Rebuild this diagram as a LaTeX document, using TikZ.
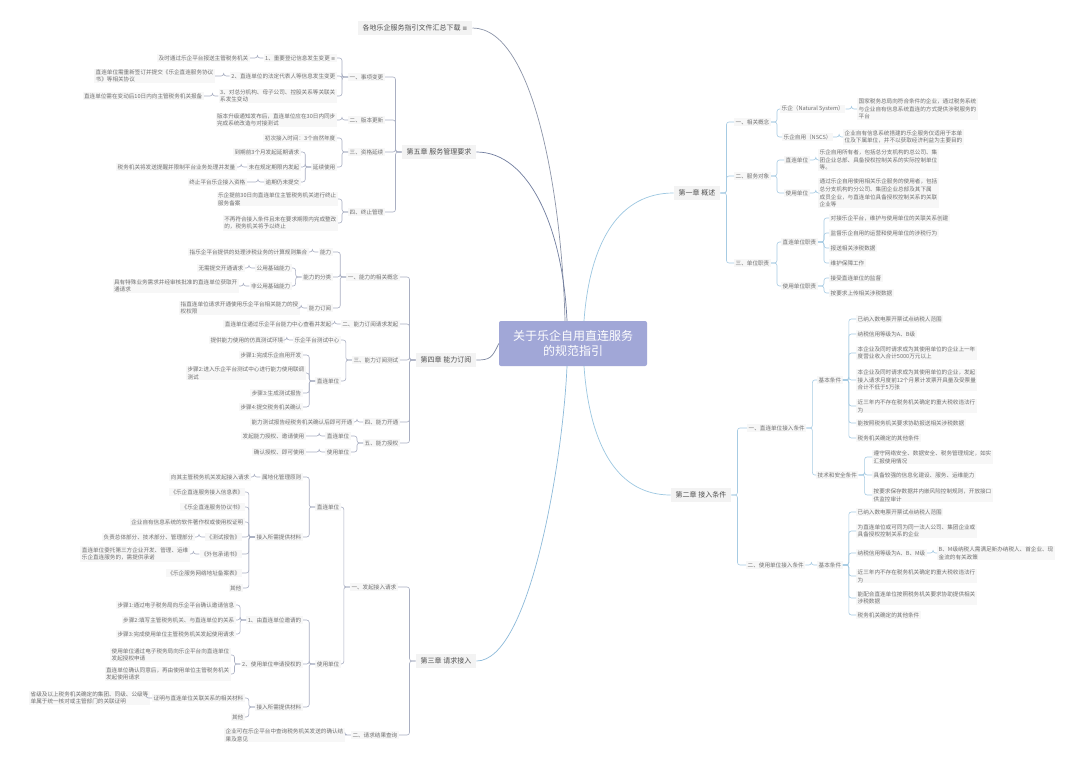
\documentclass[tikz,border=0pt]{standalone}
\usepackage{fontspec}
\setmainfont{Noto Sans CJK SC}
\newfontfamily\dv{DejaVu Sans}
\definecolor{lcol}{HTML}{A9AFC2}
\definecolor{rcol}{HTML}{A6CBE3}
\definecolor{txt}{HTML}{707070}
\definecolor{chtxt}{HTML}{505050}
\definecolor{leafbg}{HTML}{F7F7F7}
\definecolor{chbg}{HTML}{F3F3F3}
\definecolor{ctrbg}{HTML}{A1A7D7}
\definecolor{cv5}{HTML}{6F7C9E}
\definecolor{cvdl}{HTML}{8C94A8}
\definecolor{cv4}{HTML}{7D879F}
\definecolor{cv3}{HTML}{8DBADA}
\definecolor{cvr}{HTML}{9CC7E1}
\tikzset{
  leaf/.style={font=\fontsize{5.6}{7.7}\selectfont, text=txt, fill=leafbg, inner xsep=1.5pt, inner ysep=1pt, align=left},
  ll/.style={leaf, anchor=east},
  rl/.style={leaf, anchor=west},
  chap/.style={font=\fontsize{7}{9}\selectfont, text=chtxt, fill=chbg, inner xsep=5pt, inner ysep=3.5pt},
  ctrbox/.style={font=\fontsize{12}{15}\selectfont, text=white, fill=ctrbg, rounded corners=2pt, minimum width=148pt, minimum height=45pt, align=center},
  lline/.style={draw=lcol, line width=0.6pt, rounded corners=2.5pt},
  rline/.style={draw=rcol, line width=0.6pt, rounded corners=2.5pt},
  curve/.style={line width=0.7pt}
}
\newcommand\lk[2]{\draw[lline] (#1.west) -- ++(-6,0) |- (#2.east);}
\newcommand\rk[2]{\draw[rline] (#1.east) -- ++(6,0) |- (#2.west);}
\begin{document}
\begin{tikzpicture}[x=1pt,y=-1pt]
\fill[white] (0,0) rectangle (1080,766);
\useasboundingbox (0,0) rectangle (1080,766);

% center
\node[ctrbox] (ctr) at (573,343.5) {关于乐企自用直连服务\\的规范指引};

% chapters
\node[chap] (dl) at (415,28) {各地乐企服务指引文件汇总下载 {\dv\fontsize{6}{7}\selectfont ≡}};
\node[chap] (c5) at (439,152) {第五章 服务管理要求};
\node[chap] (c4) at (446,360) {第四章 能力订阅};
\node[chap] (c3) at (446,661) {第三章 请求接入};
\node[chap] (c1) at (697,193) {第一章 概述};
\node[chap] (c2) at (701,495) {第二章 接入条件};

\draw[curve,cvdl] (dl.east) .. controls (535,28) and (562,200) .. ([xshift=-8pt]ctr.north);
\draw[curve,cv5] (c5.east) .. controls (530,152) and (563,230) .. ([xshift=-6pt]ctr.north);
\draw[curve,cv4] (c4.east) .. controls (490,360) and (492,358) .. (ctr.west);
\draw[curve,cv3] (c3.east) .. controls (530,661) and (563,460) .. ([xshift=-6pt]ctr.south);
\draw[curve,cvr] ([xshift=11pt]ctr.north) .. controls (590,240) and (620,193) .. (c1.west);
\draw[curve,cvr] ([xshift=11pt]ctr.south) .. controls (590,450) and (620,495) .. (c2.west);

% ===== Chapter 5 =====
\node[ll] (a1) at (385,77) {一、事项变更};
\node[ll] (a2) at (385,120) {二、版本更新};
\node[ll] (a3) at (385,152) {三、资格延续};
\node[ll] (a4) at (385,212) {四、终止管理};
\foreach \c in {a1,a2,a3,a4} {\lk{c5}{\c}}

\node[ll] (a11) at (337,58) {1、重要登记信息发生变更 {\dv\fontsize{5}{6}\selectfont ≡}};
\node[ll] (a12) at (337,76) {2、直连单位的法定代表人等信息发生变更};
\node[ll] (a13) at (337,96) {3、对总分机构、母子公司、控股关系等关联关\\系发生变动};
\foreach \c in {a11,a12,a13} {\lk{a1}{\c}}
\node[ll] (a111) at (250,58) {及时通过乐企平台报送主管税务机关};
\lk{a11}{a111}
\node[ll] (a121) at (215,76) {直连单位需重新签订并提交《乐企直连服务协议\\书》等相关协议};
\lk{a12}{a121}
\node[ll] (a131) at (204,96) {直连单位需在变动后10日内向主管税务机关报备};
\lk{a13}{a131}
\node[ll] (a21) at (337,120) {版本升级通知发布后，直连单位应在30日内同步\\完成系统改造与对接测试};
\lk{a2}{a21}

\node[ll] (a31) at (337,138) {初次接入时间：3个自然年度};
\node[ll] (a32) at (337,167) {延续使用};
\foreach \c in {a31,a32} {\lk{a3}{\c}}
\node[ll] (a321) at (301,152) {到期前3个月发起延期请求};
\node[ll] (a322) at (301,167) {未在规定期限内发起};
\node[ll] (a323) at (301,182) {逾期仍未提交};
\foreach \c in {a321,a322,a323} {\lk{a32}{\c}}
\node[ll] (a3221) at (237,167) {税务机关将发送提醒并限制平台业务处理并发量};
\lk{a322}{a3221}
\node[ll] (a3231) at (247,182) {终止平台乐企接入资格};
\lk{a323}{a3231}

\node[ll] (a41) at (338,199) {乐企提前30日向直连单位主管税务机关进行终止\\服务备案};
\node[ll] (a42) at (338,223) {不再符合接入条件且未在要求期限内完成整改\\的，税务机关将予以终止};
\foreach \c in {a41,a42} {\lk{a4}{\c}}

% ===== Chapter 4 =====
\node[ll] (b1) at (400,277) {一、能力的相关概念};
\node[ll] (b2) at (400,324) {二、能力订阅请求发起};
\node[ll] (b3) at (400,360) {三、能力订阅测试};
\node[ll] (b4) at (400,422) {四、能力开通};
\node[ll] (b5) at (400,443) {五、能力授权};
\foreach \c in {b1,b2,b3,b4,b5} {\lk{c4}{\c}}

\node[ll] (b11) at (333,252) {能力};
\node[ll] (b12) at (333,277) {能力的分类};
\node[ll] (b13) at (333,308) {能力订阅};
\foreach \c in {b11,b12,b13} {\lk{b1}{\c}}
\node[ll] (b111) at (309,252) {指乐企平台提供的处理涉税业务的计算规则集合};
\lk{b11}{b111}
\node[ll] (b121) at (292,268) {公用基础能力};
\node[ll] (b122) at (292,286) {非公用基础能力};
\foreach \c in {b121,b122} {\lk{b12}{\c}}
\node[ll] (b1211) at (245,268) {无需提交开通请求};
\lk{b121}{b1211}
\node[ll] (b1221) at (239,286) {具有特殊业务需求并经审核批准的直连单位获取开\\通请求};
\lk{b122}{b1221}
\node[ll] (b131) at (300,308) {指直连单位请求开通使用乐企平台相关能力的授\\权权限};
\lk{b13}{b131}
\node[ll] (b21) at (333,324) {直连单位通过乐企平台能力中心查看并发起};
\lk{b2}{b21}

\node[ll] (b31) at (341,340) {乐企平台测试中心};
\node[ll] (b32) at (341,381) {直连单位};
\foreach \c in {b31,b32} {\lk{b3}{\c}}
\node[ll] (b311) at (285,340) {提供能力使用的仿真测试环境};
\lk{b31}{b311}
\node[ll] (b321) at (303,355) {步骤1:完成乐企自用开发};
\node[ll] (b322) at (306,373) {步骤2:进入乐企平台测试中心进行能力使用联调\\测试};
\node[ll] (b323) at (303,393) {步骤3:生成测试报告};
\node[ll] (b324) at (303,407) {步骤4:提交税务机关确认};
\foreach \c in {b321,b322,b323,b324} {\lk{b32}{\c}}
\node[ll] (b41) at (354,422) {能力测试报告经税务机关确认后即可开通};
\lk{b4}{b41}
\node[ll] (b51) at (351,436) {直连单位};
\node[ll] (b52) at (351,452) {使用单位};
\foreach \c in {b51,b52} {\lk{b5}{\c}}
\node[ll] (b511) at (306,436) {发起能力授权、邀请使用};
\lk{b51}{b511}
\node[ll] (b521) at (306,452) {确认授权、即可使用};
\lk{b52}{b521}

% ===== Chapter 3 =====
\node[ll] (d1) at (398,587) {一、发起接入请求};
\node[ll] (d2) at (399,735) {二、请求结果查询};
\foreach \c in {d1,d2} {\lk{c3}{\c}}
\node[ll] (d11) at (341,507) {直连单位};
\node[ll] (d12) at (341,664) {使用单位};
\foreach \c in {d11,d12} {\lk{d1}{\c}}
\node[ll] (d111) at (303,477) {属地化管理原则};
\node[ll] (d112) at (303,537) {接入所需提供材料};
\foreach \c in {d111,d112} {\lk{d11}{\c}}
\node[ll] (d1111) at (251,477) {向其主管税务机关发起接入请求};
\lk{d111}{d1111}
\node[ll] (d1121) at (245,492) {《乐企直连服务接入信息表》};
\node[ll] (d1122) at (245,507) {《乐企直连服务协议书》};
\node[ll] (d1123) at (245,522) {企业自有信息系统的软件著作权或使用权证明};
\node[ll] (d1124) at (242,537) {《测试报告》};
\node[ll] (d1125) at (242,554) {《外包承诺书》};
\node[ll] (d1126) at (242,573) {《乐企服务网络地址备案表》};
\node[ll] (d1127) at (243,588) {其他};
\foreach \c in {d1121,d1122,d1123,d1124,d1125,d1126,d1127} {\lk{d112}{\c}}
\node[ll] (d11241) at (195,537) {负责总体部分、技术部分、管理部分};
\lk{d1124}{d11241}
\node[ll] (d11251) at (190,554) {直连单位委托第三方企业开发、管理、运维\\乐企直连服务的，需提供承诺};
\lk{d1125}{d11251}

\node[ll] (d121) at (303,620) {1、由直连单位邀请的};
\node[ll] (d122) at (303,664) {2、使用单位申请授权的};
\node[ll] (d123) at (303,707) {接入所需提供材料};
\foreach \c in {d121,d122,d123} {\lk{d12}{\c}}
\node[ll] (d1211) at (236,605) {步骤1:通过电子税务局向乐企平台确认邀请信息};
\node[ll] (d1212) at (236,620) {步骤2:填写主管税务机关、与直连单位的关系};
\node[ll] (d1213) at (236,634) {步骤3:完成使用单位主管税务机关发起使用请求};
\foreach \c in {d1211,d1212,d1213} {\lk{d121}{\c}}
\node[ll] (d1221) at (231,655) {使用单位通过电子税务局向乐企平台向直连单位\\发起授权申请};
\node[ll] (d1222) at (231,674) {直连单位确认同意后，再由使用单位主管税务机关\\发起使用请求};
\foreach \c in {d1221,d1222} {\lk{d122}{\c}}
\node[ll] (d1231) at (245,698) {证明与直连单位关联关系的相关材料};
\node[ll] (d1232) at (245,717) {其他};
\foreach \c in {d1231,d1232} {\lk{d123}{\c}}
\node[ll] (d12311) at (150,698) {省级及以上税务机关确定的集团、同级、公级等\\单属于统一核对或主管部门的关联证明};
\lk{d1231}{d12311}
\node[ll] (d21) at (345,735) {企业可在乐企平台中查询税务机关发送的确认结\\果及意见};
\lk{d2}{d21}

% ===== Chapter 1 =====
\node[rl] (e1) at (734,122) {一、相关概念};
\node[rl] (e2) at (734,176) {二、服务对象};
\node[rl] (e3) at (734,263) {三、单位职责};
\foreach \c in {e1,e2,e3} {\rk{c1}{\c}}
\node[rl] (e11) at (780,109) {乐企（Natural System）};
\node[rl] (e12) at (782,137) {乐企自用（NSCS）};
\foreach \c in {e11,e12} {\rk{e1}{\c}}
\node[rl] (e111) at (857,109) {国家税务总局向符合条件的企业，通过税务系统\\与企业自有信息系统直连的方式提供涉税服务的\\平台};
\rk{e11}{e111}
\node[rl] (e121) at (843,137) {企业自有信息系统搭建的乐企服务仅适用于本单\\位及下属单位，并不以获取经济利益为主要目的};
\rk{e12}{e121}
\node[rl] (e21) at (784,160) {直连单位};
\node[rl] (e22) at (784,193) {使用单位};
\foreach \c in {e21,e22} {\rk{e2}{\c}}
\node[rl] (e211) at (818,160) {乐企自用所有者，包括总分支机构的总公司、集\\团企业总部、具备授权控制关系的实际控制单位\\等。};
\rk{e21}{e211}
\node[rl] (e221) at (818,193) {通过乐企自用使用相关乐企服务的使用者，包括\\总分支机构的分公司、集团企业总部及其下属\\成员企业，与直连单位具备授权控制关系的关联\\企业等};
\rk{e22}{e221}
\node[rl] (e31) at (781,242) {直连单位职责};
\node[rl] (e32) at (781,286) {使用单位职责};
\foreach \c in {e31,e32} {\rk{e3}{\c}}
\node[rl] (e311) at (829,218) {对接乐企平台，维护与使用单位的关联关系创建};
\node[rl] (e312) at (829,233) {监督乐企自用的运营和使用单位的涉税行为};
\node[rl] (e313) at (829,248) {报送相关涉税数据};
\node[rl] (e314) at (829,263) {维护保障工作};
\foreach \c in {e311,e312,e313,e314} {\rk{e31}{\c}}
\node[rl] (e321) at (829,278) {接受直连单位的监督};
\node[rl] (e322) at (829,293) {按要求上传相关涉税数据};
\foreach \c in {e321,e322} {\rk{e32}{\c}}

% ===== Chapter 2 =====
\node[rl] (f1) at (747,428) {一、直连单位接入条件};
\node[rl] (f2) at (746,565) {二、使用单位接入条件};
\foreach \c in {f1,f2} {\rk{c2}{\c}}
\node[rl] (f11) at (817,380) {基本条件};
\node[rl] (f12) at (816,475) {技术和安全条件};
\foreach \c in {f11,f12} {\rk{f1}{\c}}
\node[rl] (f111) at (856,319) {已纳入数电票开票试点纳税人范围};
\node[rl] (f112) at (856,334) {纳税信用等级为A、B级};
\node[rl] (f113) at (856,353) {本企业及同时请求成为其使用单位的企业上一年\\度营业收入合计5000万元以上};
\node[rl] (f114) at (856,380) {本企业及同时请求成为其使用单位的企业，发起\\接入请求月度前12个月累计发票开具量及受票量\\合计不低于5万张};
\node[rl] (f115) at (856,406) {近三年内不存在税务机关确定的重大税收违法行\\为};
\node[rl] (f116) at (856,423) {能按照税务机关要求协助报送相关涉税数据};
\node[rl] (f117) at (856,438) {税务机关确定的其他条件};
\foreach \c in {f111,f112,f113,f114,f115,f116,f117} {\rk{f11}{\c}}
\node[rl] (f121) at (872,457) {遵守网络安全、数据安全、税务管理规定，如实\\汇报使用情况};
\node[rl] (f122) at (872,475) {具备较强的信息化建设、服务、运维能力};
\node[rl] (f123) at (872,495) {按要求保存数据并内嵌风险控制规则，开放接口\\供监控审计};
\foreach \c in {f121,f122,f123} {\rk{f12}{\c}}

\node[rl] (f21) at (817,565) {基本条件};
\rk{f2}{f21}
\node[rl] (f211) at (856,512) {已纳入数电票开票试点纳税人范围};
\node[rl] (f212) at (856,531) {为直连单位或可同为同一法人公司、集团企业或\\具备授权控制关系的企业};
\node[rl] (f213) at (856,553) {纳税信用等级为A、B、M级};
\node[rl] (f214) at (856,576) {近三年内不存在税务机关确定的重大税收违法行\\为};
\node[rl] (f215) at (856,598) {能配合直连单位按照税务机关要求协助提供相关\\涉税数据};
\node[rl] (f216) at (856,615) {税务机关确定的其他条件};
\foreach \c in {f211,f212,f213,f214,f215,f216} {\rk{f21}{\c}}
\node[rl] (f2131) at (937,553) {B、M级纳税人需满足新办纳税人、首企业、现\\金流的有关政策};
\rk{f213}{f2131}
\end{tikzpicture}
\end{document}
